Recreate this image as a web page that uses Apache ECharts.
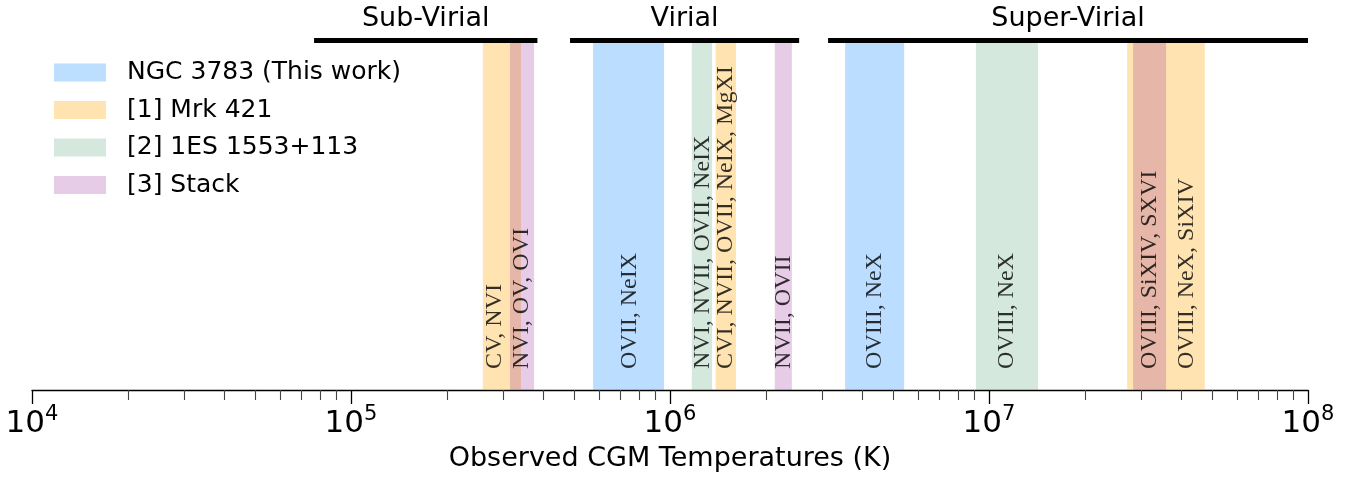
<!DOCTYPE html>
<html>
<head>
    <meta charset="utf-8">
    <title>Observed CGM Temperatures</title>
    <script src="https://cdn.jsdelivr.net/npm/echarts@6/dist/echarts.min.js"></script>
    <style>
        html, body { margin: 0; padding: 0; background: #fff; }
        #main { width: 1363px; height: 479px; }
    </style>
</head>
<body>
<div id="main"></div>
<script>
// temperature ranges (K) of each band
var names = ['NGC 3783 (This work)', '[1] Mrk 421', '[2] 1ES 1553+113', '[3] Stack'];
var blueBands   = [[5.74e5, 9.58e5], [3.54e6, 5.42e6]];
var orangeBands = [[2.59e5, 3.41e5], [1.39e6, 1.61e6], [2.71e7, 4.75e7]];
var greenBands  = [[1.17e6, 1.355e6], [9.1e6, 1.425e7]];
var purpleBands = [[3.15e5, 3.75e5], [2.13e6, 2.41e6], [2.83e7, 3.59e7]];

// ion labels written along each band: [temperature, text]
var blueLabels   = [[7.45e5, 'OVII, NeIX'], [4.39e6, 'OVIII, NeX']];
var orangeLabels = [[2.83e5, 'CV, NVI'], [1.495e6, 'CVI, NVII, OVII, NeIX, MgXI'], [4.18e7, 'OVIII, NeX, SiXIV']];
var greenLabels  = [[1.266e6, 'NVI, NVII, OVII, NeIX'], [1.136e7, 'OVIII, NeX']];
var purpleLabels = [[3.44e5, 'NVI, OV, OVI'], [2.28e6, 'NVII, OVII'], [3.2e7, 'OVIII, SiXIV, SXVI']];

// temperature regimes at the top
var regimes = [
    ['Sub-Virial', 7.66e4, 3.84e5],
    ['Virial', 4.86e5, 2.54e6],
    ['Super-Virial', 3.13e6, 1e8]
];

var majorTicks = [1e4, 1e5, 1e6, 1e7, 1e8];
var minorTicks = [];
for (var d = 4; d < 8; d++) {
    for (var m = 2; m < 10; m++) minorTicks.push(m * Math.pow(10, d));
}

var bandTop = 0.986;   // bands stop just under the regime bars
var barY = 0.993;
var labelY = 0.06;

var myChart = echarts.init(document.getElementById('main'));

function bandSeries(name, bands, fill, legendColor) {
    return {
        name: name,
        type: 'line',
        data: [],
        itemStyle: { color: legendColor },
        markArea: {
            silent: true,
            itemStyle: { color: fill },
            data: bands.map(function (b) {
                return [{ coord: [b[0], 0] }, { coord: [b[1], bandTop] }];
            })
        }
    };
}

function labelSeries(labels) {
    return {
        type: 'scatter',
        symbolSize: 0,
        silent: true,
        z: 5,
        data: labels.map(function (l) { return { value: [l[0], labelY], name: l[1] }; }),
        label: {
            show: true,
            formatter: '{b}',
            position: 'inside',
            rotate: 90,
            align: 'left',
            verticalAlign: 'middle',
            fontFamily: 'Liberation Serif',
            fontSize: 24,
            color: '#000'
        }
    };
}

var option = {
    animation: false,
    textStyle: { fontFamily: 'DejaVu Sans' },
    grid: { left: 32, right: 55, top: 38, bottom: 89, outerBoundsMode: 'none', containLabel: false },
    legend: {
        left: 49,
        top: 55,
        orient: 'vertical',
        icon: 'rect',
        itemWidth: 52,
        itemHeight: 18,
        itemGap: 12.5,
        data: names,
        textStyle: { fontSize: 25, lineHeight: 25, color: '#000', padding: [0, 0, 0, 16] }
    },
    xAxis: [{
        type: 'log',
        logBase: 10,
        min: 1e4,
        max: 1e8,
        name: 'Observed CGM Temperatures (K)',
        nameLocation: 'middle',
        nameGap: 55,
        nameTextStyle: { fontSize: 27, color: '#000' },
        axisLine: { lineStyle: { color: '#000', width: 1.3 } },
        axisTick: { length: 14, lineStyle: { color: '#000', width: 1.3 } },
        splitLine: { show: false },
        axisLabel: {
            margin: 14,
            formatter: function (v) {
                return '{b|10}{s|' + Math.round(Math.log10(v)) + '}';
            },
            rich: {
                b: { fontSize: 31, color: '#000' },
                s: { fontSize: 21, color: '#000', padding: [0, 0, 18, 0] }
            }
        }
    }, {
        type: 'log',
        logBase: 10,
        min: 1e4,
        max: 1e8,
        position: 'bottom',
        axisLine: { show: false },
        axisLabel: { show: false },
        splitLine: { show: false },
        axisTick: { length: 10, customValues: minorTicks, lineStyle: { color: '#444', width: 1.1 } }
    }],
    yAxis: { type: 'value', min: 0, max: 1, show: false },
    series: [
        bandSeries(names[0], blueBands, 'rgba(30,144,255,0.3)', '#bcdeff'),
        bandSeries(names[1], orangeBands, 'rgba(255,165,0,0.3)', '#ffe4b2'),
        bandSeries(names[2], greenBands, 'rgba(46,139,87,0.2)', '#d5e8dd'),
        bandSeries(names[3], purpleBands, 'rgba(128,0,128,0.2)', '#e6cce6'),
        labelSeries(blueLabels),
        labelSeries(orangeLabels),
        labelSeries(greenLabels),
        labelSeries(purpleLabels),
        {
            type: 'line',
            data: [],
            markLine: {
                silent: true,
                symbol: 'none',
                lineStyle: { color: '#000', width: 5, type: 'solid' },
                label: {
                    show: true,
                    position: 'middle',
                    formatter: '{b}',
                    fontSize: 27,
                    color: '#000',
                    distance: 8
                },
                data: regimes.map(function (r) {
                    return [{ coord: [r[1], barY], name: r[0] }, { coord: [r[2], barY] }];
                })
            }
        }
    ]
};

myChart.setOption(option);
</script>
</body>
</html>
